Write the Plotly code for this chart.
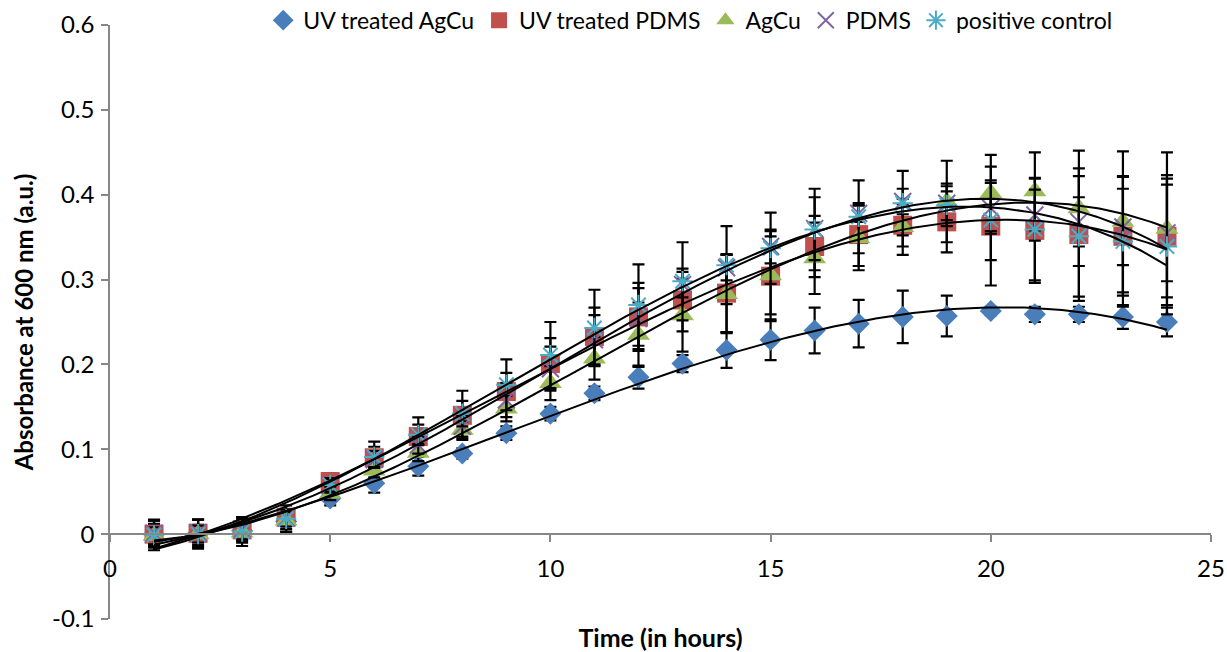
import numpy as np
import plotly.graph_objects as go

# Time points (hours)
hours = list(range(1, 25))

# Mean absorbance at 600 nm for each sample
uv_agcu = [0.000, 0.001, 0.004, 0.015, 0.042, 0.060, 0.080, 0.095, 0.119, 0.142, 0.166, 0.185,
           0.201, 0.217, 0.229, 0.240, 0.248, 0.256, 0.257, 0.263, 0.259, 0.259, 0.256, 0.250]
uv_pdms = [0.000, 0.001, 0.005, 0.020, 0.062, 0.090, 0.115, 0.140, 0.168, 0.201, 0.233, 0.256,
           0.276, 0.284, 0.304, 0.339, 0.353, 0.364, 0.368, 0.363, 0.358, 0.353, 0.351, 0.351]
agcu = [-0.002, 0.000, 0.002, 0.016, 0.048, 0.075, 0.096, 0.123, 0.148, 0.178, 0.207, 0.235,
        0.258, 0.283, 0.305, 0.325, 0.349, 0.362, 0.392, 0.402, 0.404, 0.384, 0.368, 0.360]
pdms = [0.001, 0.002, 0.006, 0.019, 0.057, 0.088, 0.105, 0.127, 0.158, 0.195, 0.229, 0.254,
        0.294, 0.314, 0.339, 0.360, 0.378, 0.392, 0.390, 0.384, 0.376, 0.368, 0.362, 0.355]
positive = [-0.001, 0.000, 0.003, 0.018, 0.058, 0.091, 0.117, 0.142, 0.176, 0.211, 0.243, 0.270,
            0.298, 0.317, 0.337, 0.359, 0.374, 0.390, 0.388, 0.370, 0.359, 0.351, 0.345, 0.339]

# Standard deviations (error bars)
uv_agcu_err = [0.012, 0.010, 0.008, 0.012, 0.008, 0.011, 0.011, 0.006, 0.008, 0.008, 0.008, 0.0135,
               0.010, 0.021, 0.024, 0.027, 0.028, 0.031, 0.024, 0.005, 0.009, 0.009, 0.014, 0.017]
uv_pdms_err = [0.016, 0.016, 0.015, 0.006, 0.010, 0.019, 0.0225, 0.029, 0.022, 0.030, 0.034, 0.040,
               0.037, 0.046, 0.053, 0.036, 0.037, 0.025, 0.036, 0.070, 0.062, 0.078, 0.070, 0.072]
agcu_err = [0.010, 0.010, 0.010, 0.010, 0.008, 0.008, 0.010, 0.010, 0.015, 0.020, 0.025, 0.038,
            0.043, 0.046, 0.046, 0.042, 0.038, 0.033, 0.048, 0.045, 0.046, 0.068, 0.083, 0.090]
pdms_err = [0.015, 0.015, 0.012, 0.010, 0.008, 0.010, 0.010, 0.012, 0.020, 0.026, 0.029, 0.036,
            0.015, 0.015, 0.020, 0.037, 0.010, 0.015, 0.020, 0.030, 0.030, 0.029, 0.045, 0.057]
positive_err = [0.018, 0.017, 0.017, 0.016, 0.008, 0.012, 0.012, 0.015, 0.030, 0.039, 0.045, 0.048,
                0.046, 0.046, 0.042, 0.048, 0.043, 0.038, 0.025, 0.047, 0.060, 0.071, 0.077, 0.080]

series_names = ["UV treated AgCu", "UV treated PDMS", "AgCu", "PDMS", "positive control"]

y_tick_vals = [-0.1, 0, 0.1, 0.2, 0.3, 0.4, 0.5, 0.6]
y_tick_text = ["-0.1", "0", "0.1", "0.2", "0.3", "0.4", "0.5", "0.6"]
x_tick_vals = [0, 5, 10, 15, 20, 25]

FONT = "Lato, 'Open Sans', sans-serif"
AXIS_GREY = "#878787"

styles = [
    dict(symbol="diamond", size=17, color="#4A7EBB", line=dict(width=0)),
    dict(symbol="square", size=19, color="#C0504D", line=dict(width=0)),
    dict(symbol="triangle-up", size=20, color="#9BBB59", line=dict(width=0)),
    dict(symbol="x-thin-open", size=17, color="#8064A2", line=dict(width=2, color="#8064A2")),
    dict(symbol="asterisk-open", size=17, color="#4BACC6", line=dict(width=2, color="#4BACC6")),
]

values = [uv_agcu, uv_pdms, agcu, pdms, positive]
errors = [uv_agcu_err, uv_pdms_err, agcu_err, pdms_err, positive_err]

fig = go.Figure()

for name, y, err, mk in zip(series_names, values, errors, styles):
    fig.add_trace(go.Scatter(
        x=hours, y=y, name=name, mode="markers", marker=mk,
        error_y=dict(type="data", array=err, visible=True, color="black",
                     thickness=2.2, width=6),
    ))

# Third-order polynomial trendline for every sample
x_fit = np.linspace(hours[0], hours[-1], 300)
for y in values:
    coeffs = np.polyfit(hours, y, 3)
    fig.add_trace(go.Scatter(
        x=x_fit, y=np.polyval(coeffs, x_fit), mode="lines",
        line=dict(color="black", width=2), showlegend=False, hoverinfo="skip",
    ))

fig.update_layout(
    width=1227, height=652,
    margin=dict(l=110, r=16, t=25, b=33, autoexpand=False),
    paper_bgcolor="white", plot_bgcolor="white",
    font=dict(family=FONT, size=24, color="black"),
    showlegend=True,
    legend=dict(orientation="h", x=0.527, xanchor="center", y=1.008, yanchor="middle",
                font=dict(size=23), bgcolor="rgba(0,0,0,0)", itemwidth=30,
                tracegroupgap=0),
    xaxis=dict(
        range=[0, 25], tickvals=x_tick_vals, showgrid=False, zeroline=False,
        showline=True, linecolor=AXIS_GREY, linewidth=1.5,
        ticks="outside", ticklen=7, tickcolor=AXIS_GREY, tickwidth=1.5,
        anchor="free", position=1 / 7, ticklabelstandoff=6,
        tickfont=dict(size=24),
        title=dict(text="<b>Time (in hours)</b>", font=dict(size=25), standoff=48),
    ),
    yaxis=dict(
        range=[-0.1, 0.6], tickvals=y_tick_vals, ticktext=y_tick_text,
        showgrid=False, zeroline=False,
        showline=True, linecolor=AXIS_GREY, linewidth=1.5,
        ticks="outside", ticklen=7, tickcolor=AXIS_GREY, tickwidth=1.5,
        ticklabelstandoff=2, tickfont=dict(size=24),
        title=dict(text="<b>Absorbance at 600 nm (a.u.)</b>", font=dict(size=24), standoff=12),
    ),
)

fig.write_html("out.html")
